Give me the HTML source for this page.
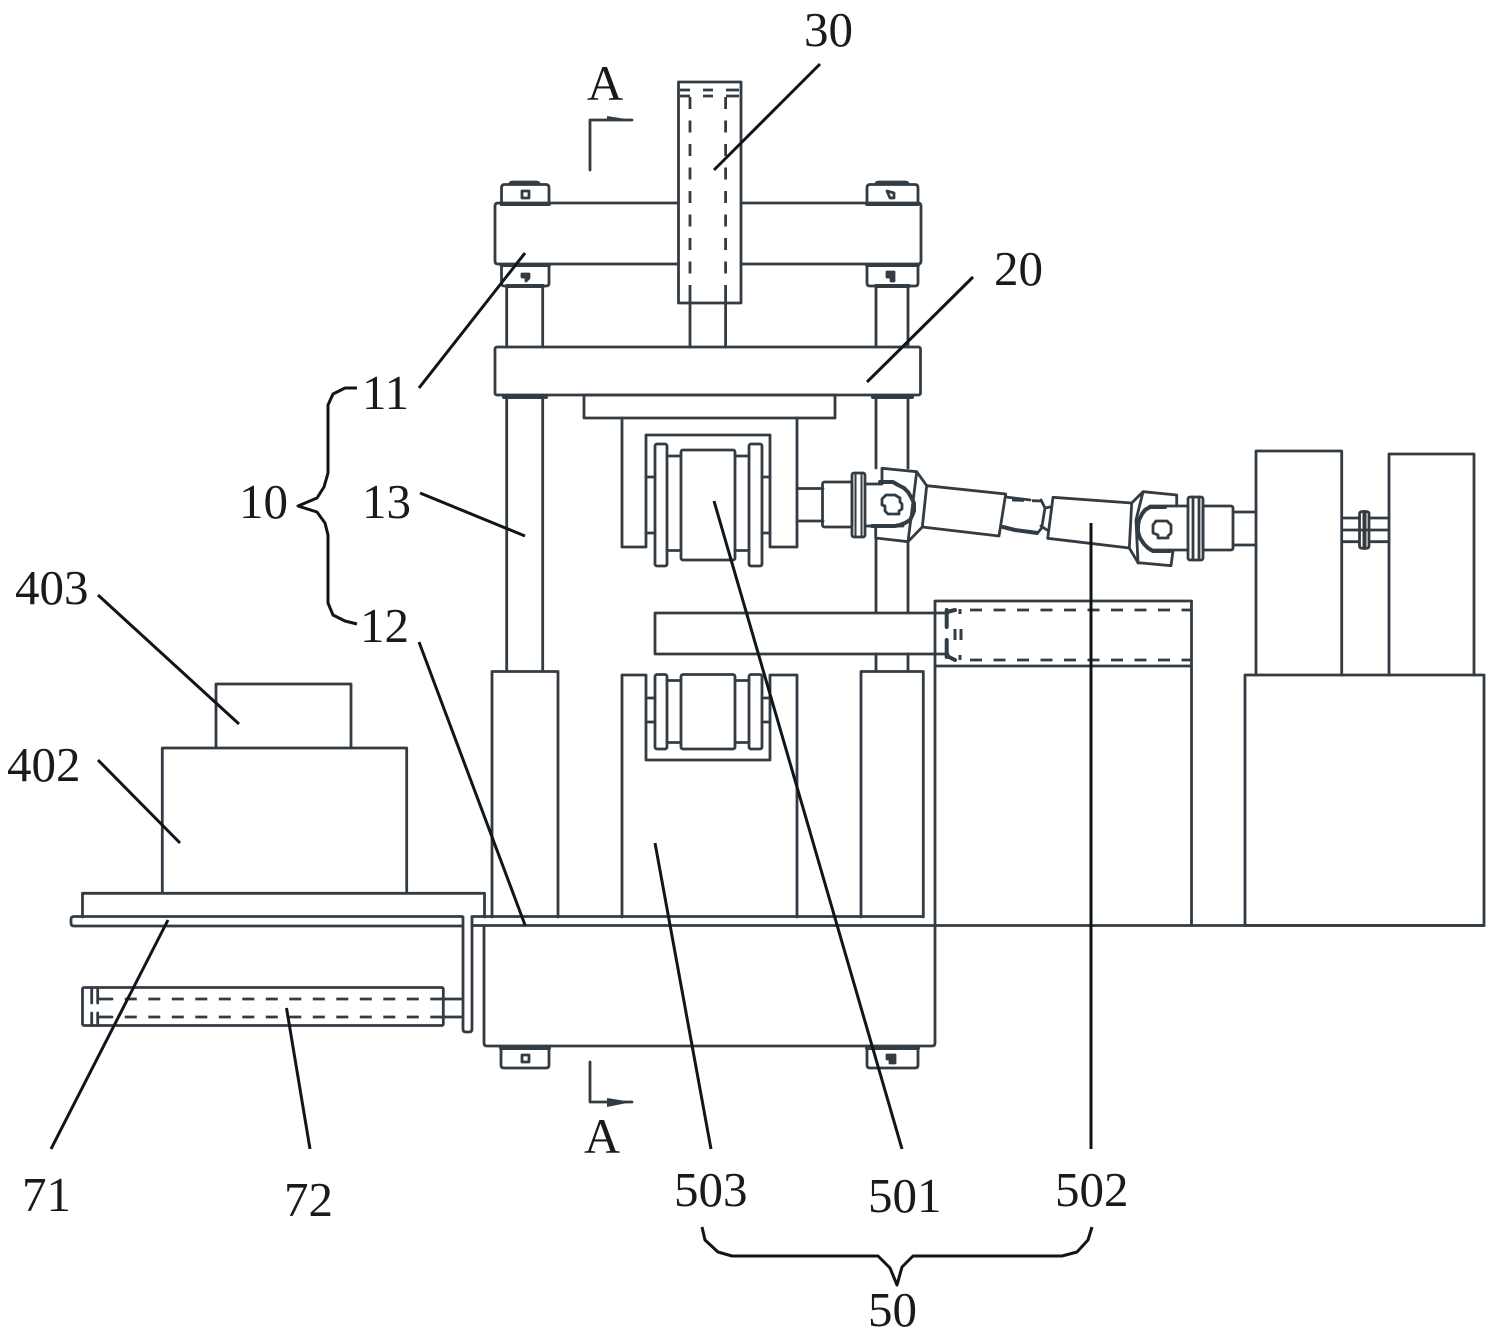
<!DOCTYPE html>
<html><head><meta charset="utf-8"><style>
html,body{margin:0;padding:0;background:#fff}
svg{display:block}
.d{fill:none;stroke:#333b43;stroke-width:2.8;stroke-linejoin:round;stroke-linecap:round}
.h{stroke-width:4}
.da{stroke-linecap:butt}
.l{fill:none;stroke:#111518;stroke-width:3;stroke-linecap:butt;stroke-linejoin:round}
text{font-family:"Liberation Serif",serif;font-size:49px;fill:#1a1a1a}
</style></head><body>
<svg width="1487" height="1339" viewBox="0 0 1487 1339" xmlns="http://www.w3.org/2000/svg">
<g class="d">
<!-- cylinder 30 -->
<rect x="678.500" y="82" width="62.500" height="221"/>
<path class="da" d="M680 90H690M703 90H713M726 90H739M680 96H690M703 96H713M726 96H739"/>
<path class="da" stroke-dasharray="12 11.500" d="M690 97V292M725.600 97V292"/>
<path d="M690 292V347M725.600 292V347"/>
<!-- top plate 11 -->
<path d="M678.500 203H498q-3 0-3 3V261q0 3 3 3H678.500M741 203H918q3 0 3 3V261q0 3-3 3H741"/>
<!-- nuts -->
<path d="M501.500 203V188q0-3.500 3-3.500H546q3 0 3 3.500V203M510 184q0-2 3-2H536q3 0 3 2"/>
<path d="M867 203V188q0-3.500 3-3.500H915q3 0 3 3.500V203M876 184q0-2 3-2H905q3 0 3 2"/>
<path d="M501.500 265V283q0 3 3 3H546q3 0 3-3V265M867 265V283q0 3 3 3H915q3 0 3-3V265"/>
<path class="h" d="M507 286H543M876 286H909M501.500 204H549M867 204H918M501.500 265H549M867 265H918"/>
<rect x="522" y="191" width="7" height="7"/>
<path d="M887 191L894 193V198H890Z" />
<path d="M522 274H529V278L526 281V277L522 277Z" fill="#333b43"/>
<path d="M887 272H894V281H891V277H887Z" fill="#333b43"/>
<!-- columns -->
<path d="M506.700 287V347M542.700 287V347M876 287V347M908 287V347"/>
<path d="M506.700 395V671M542.700 395V671"/>
<path d="M876 395V468M908 395V468M876 539V612M908 542V612M876 654V671M908 654V671"/>
<path class="h" d="M504 397H546M873 397H912"/>
<!-- plate 20 -->
<rect x="495" y="347" width="425.500" height="48" rx="2"/>
<rect x="584" y="395" width="251" height="23"/>
<!-- upper U bracket -->
<path d="M622 418V547H646V435H770V547H797V418"/>
<rect x="655" y="444" width="12" height="122" rx="2"/>
<rect x="749" y="444" width="13" height="122" rx="2"/>
<rect x="681" y="450" width="54" height="110" rx="2"/>
<path d="M667 456H681M667 550.500H681M735 456H749M735 550.500H749M646 477H655M646 533H655M762 477H770M762 533H770"/>
<!-- left drive -->
<path d="M797 488.500H823M797 521H823"/>
<rect x="822.500" y="482" width="29.500" height="45" rx="2"/>
<rect x="852" y="473" width="13" height="64" rx="2"/>
<path d="M855.500 473V537M861.500 473V537" stroke-width="2"/>
<path d="M865 484H882M865 526H903"/>
<path class="h" d="M880 482H893L898 485L904 488L908 492L911 497L914 503V511L912 516L910 520L905 523L900 525L895 526H872"/>
<path d="M886 495H895L900 498V502L902 504V509L899 511V514H888L885 511V506L882 505V499Z"/>
<path d="M882 482V468.300L916.700 471.700L926.700 485.700L922.300 527L908 541.700L875.700 538V527M916.700 472L908 541.700"/>
<path d="M926.700 485.700L1005.700 494L999 536L922.300 527"/>
<!-- intermediate shaft -->
<path d="M1006 497L1030 500"/>
<path class="da" stroke-dasharray="12 8" d="M1012 500L1041 501"/>
<path d="M1041 500L1045 508L1041.700 528L1038 532.500L1027 531"/>
<path class="h" d="M1003 527L1015 530L1037 533"/>
<path d="M1045 508L1050 507M1041 526L1047 530"/>
<!-- second shaft + right joint -->
<path d="M1053 497.300L1131.700 503L1129.300 548L1047.700 538.300Z"/>
<path d="M1131.700 503L1143 491.700L1176.700 495L1176.700 506M1129.300 548L1138 562.700L1171 565.700L1173 551M1143 492L1136 520L1138 563"/>
<path d="M1150 506H1188M1150 550H1188"/>
<path class="h" d="M1165 507H1150L1145 510L1142 514L1139 520L1138 526V532L1140 538L1144 544L1148 548L1153 551H1170"/>
<path d="M1156 521H1167L1171 525V533L1168 536V538H1158V535L1153 533V525Z"/>
<rect x="1188" y="497" width="15" height="63" rx="2"/>
<path d="M1193 497V560M1199 497V560"/>
<rect x="1203" y="506" width="30" height="44" rx="2"/>
<path d="M1233 512H1256M1233 545H1256"/>
<!-- right motors -->
<path d="M1256 675V451H1341.700V675"/>
<path d="M1389 675V454H1474V675"/>
<rect x="1245" y="675" width="239" height="250.500"/>
<path d="M1342 518H1359M1342 530H1389M1342 541.700H1359M1369 518H1389M1369 541.700H1389"/>
<rect x="1359.500" y="511.700" width="9.500" height="36.500" rx="2"/>
<path class="h" d="M1364.500 512V548"/>
<!-- right table -->
<path d="M935 925V601H1191.500V925"/>
<path d="M935 666H1191.500"/>
<path class="da" stroke-dasharray="12 11.500" d="M970 610H1191.500M970 660H1191.500"/>
<!-- cross beam -->
<path d="M655 654V613H948M655 654H948"/>
<path class="h" d="M946.700 610V627M946.700 640V657M947 612L955 610M947 656L955 660"/>
<path class="da" stroke-width="3" d="M960 609V614M955 629V640M961 629V640M960 655V660"/>
<!-- lower U -->
<path d="M622 917V675H646V760H770V675H797V917"/>
<rect x="655" y="674.500" width="12" height="74.500" rx="2"/>
<rect x="749" y="674.500" width="13" height="74.500" rx="2"/>
<rect x="681" y="674.500" width="54" height="74.500" rx="2"/>
<path d="M667 680.500H681M667 742.500H681M735 680.500H749M735 742.500H749M646 698H655M646 722H655M762 698H770M762 722H770"/>
<!-- lower columns -->
<path d="M492 917V671.500H558V917"/>
<path d="M861 917V671.500H923.300V917"/>
<!-- left stack -->
<path d="M216 748V684H351V748"/>
<path d="M162.300 893V748H406.700V893"/>
<path d="M82.500 917V893.300H484.500V917"/>
<!-- rail -->
<path d="M462 916.500H74q-3 0-3 3V923q0 3 3 3H462"/>
<path d="M472 916.500H923M472 925.500H1484"/>
<!-- vertical plate -->
<path d="M463 917V1029q0 3 3 3h3q3 0 3-3V917"/>
<!-- cylinder 72 -->
<rect x="82.500" y="987.500" width="360.800" height="38" rx="1.500"/>
<path d="M91.700 987.500V1003M91.700 1013V1025.500M97.700 987.500V1003M97.700 1013V1025.500"/>
<path d="M98 999H112M98 1017H112"/>
<path class="da" stroke-dasharray="12 11.500" d="M124.800 999H431M124.800 1017H431"/>
<path d="M431.700 999H463M431.700 1017H463"/>
<!-- base -->
<path d="M484 926V1043q0 3 3 3H932q3 0 3-3V926"/>
<path d="M501 1047V1065q0 3 3 3H546q3 0 3-3V1047M867 1047V1065q0 3 3 3H915q3 0 3-3V1047"/>
<path class="h" d="M501 1048H549M867 1048H918"/>
<rect x="522" y="1055" width="7" height="7"/>
<path d="M887 1055H895V1063H890V1059H887Z" fill="#333b43"/>
<!-- section marks -->
<path d="M590 170V120H632"/>
<path d="M590 1062V1102H632"/>
</g>
<path d="M607 116L632 120H607Z" fill="#333b43"/>
<path d="M607 1098L632 1102L607 1107Z" fill="#333b43"/>
<!-- leaders -->
<g class="l">
<path d="M820 64L714 170"/>
<path d="M525 253L419 388"/>
<path d="M973 277L867 382"/>
<path d="M420 493L525 536"/>
<path d="M419 642L525 925"/>
<path d="M98 595L239 724"/>
<path d="M98 760L180 843"/>
<path d="M168 920L51 1149"/>
<path d="M286.500 1008L310 1149"/>
<path d="M655 843L711 1149"/>
<path d="M714 501L902 1149"/>
<path d="M1091 523V1149"/>
<path d="M357 388L345 388L333 394L328 405V473L324 487L317 498L298 506L317 512L325 523L328 535V603L333 615L345 621L357 624"/>
<path d="M702 1227L705 1240L718 1252L732 1256H878L890 1268L897 1285L902 1267L913 1256H1062L1077 1252L1088 1240L1092 1227"/>
</g>
<text x="804" y="46">30</text>
<text x="994" y="285">20</text>
<text x="362" y="409">11</text>
<text x="362" y="518">13</text>
<text x="239" y="518">10</text>
<text x="360" y="642">12</text>
<text x="15" y="604">403</text>
<text x="7" y="781">402</text>
<text x="22" y="1211">71</text>
<text x="284" y="1216">72</text>
<text x="674" y="1206">503</text>
<text x="868" y="1212">501</text>
<text x="1055" y="1206">502</text>
<text x="868" y="1326">50</text>
<text x="587" y="100" style="font-size:50px">A</text>
<text x="584" y="1153" style="font-size:50px">A</text>
</svg>
</body></html>
